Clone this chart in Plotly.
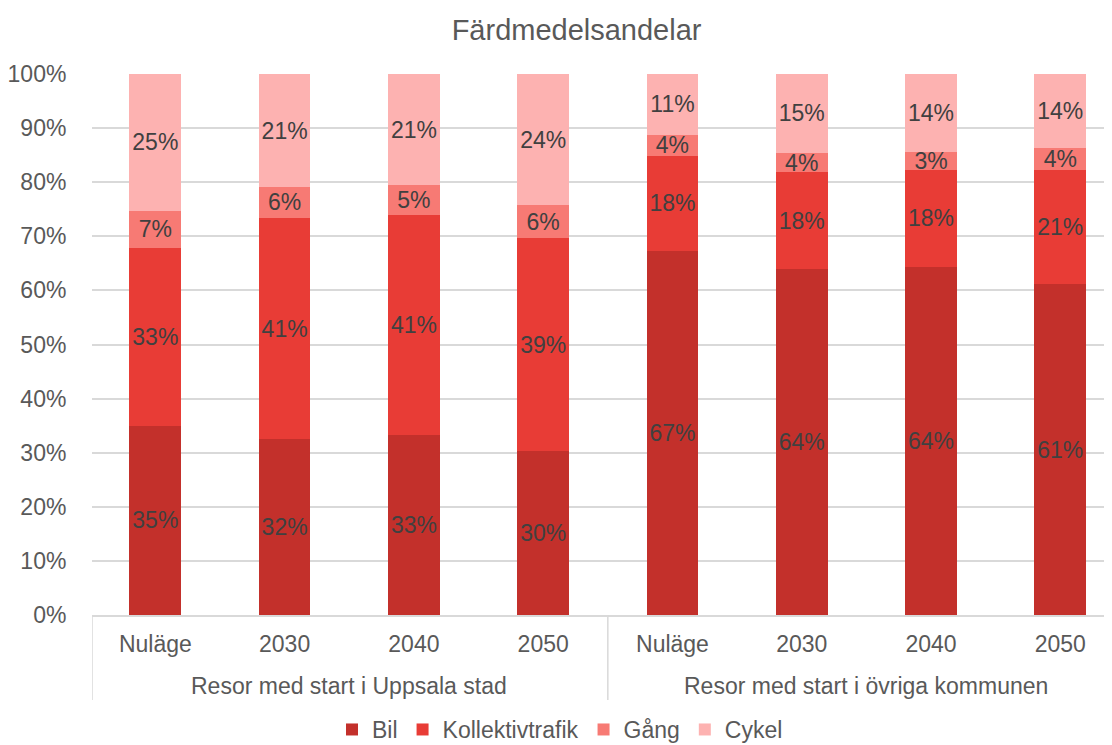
import plotly.graph_objects as go

# data
group_names = ["Resor med start i Uppsala stad", "Resor med start i övriga kommunen"]
periods = ["Nuläge", "2030", "2040", "2050", "Nuläge", "2030", "2040", "2050"]

bil = [35.0, 32.5, 33.3, 30.3, 67.3, 63.9, 64.4, 61.1]
kollektivtrafik = [32.9, 40.9, 40.7, 39.3, 17.6, 17.9, 17.9, 21.1]
gang = [6.8, 5.7, 5.4, 6.1, 3.9, 3.6, 3.3, 4.2]
cykel = [25.3, 20.9, 20.6, 24.3, 11.2, 14.6, 14.4, 13.6]

series = [
    ("Bil", bil, "#C3302B"),
    ("Kollektivtrafik", kollektivtrafik, "#E83C36"),
    ("Gång", gang, "#F77A74"),
    ("Cykel", cykel, "#FDB2B1"),
]

FONT = "Liberation Sans, Arial, sans-serif"
GREY = "#595959"
LINE = "#D9D9D9"

xpos = list(range(len(periods)))

fig = go.Figure()
for name, vals, col in series:
    fig.add_trace(go.Bar(
        x=xpos, y=vals, name=name, width=0.4,
        marker=dict(color=col, line=dict(width=0)),
        text=[f"{round(v)}%" for v in vals],
        textposition="inside", insidetextanchor="middle", textangle=0,
        textfont=dict(family=FONT, size=23, color="#404040"),
        constraintext="none",
        hoverinfo="skip",
    ))

# group labels under the period labels
for i, g in enumerate(group_names):
    fig.add_annotation(x=i * 4 + 1.5, y=-0.132, xref="x", yref="paper",
                       text=g, showarrow=False, yanchor="middle",
                       font=dict(family=FONT, size=23, color=GREY))

# vertical dividers of the category axis
for xd in [-0.49, 3.5, 7.5]:
    fig.add_shape(type="line", xref="x", yref="paper", x0=xd, x1=xd, y0=0, y1=-0.157,
                  line=dict(color=LINE, width=1.5))

# page body adds an 8px margin, so the figure is 8px smaller than the window
fig.update_layout(
    barmode="stack",
    width=1104, height=737,
    margin=dict(l=84, r=0, t=66, b=130, autoexpand=False),
    paper_bgcolor="white", plot_bgcolor="white",
    font=dict(family=FONT, size=23, color=GREY),
    title=dict(text="Färdmedelsandelar", x=0.515, xanchor="center", y=0.97, yanchor="middle",
               font=dict(family=FONT, size=29, color=GREY)),
    uniformtext=dict(mode=False),
    legend=dict(orientation="h", x=0.5, xanchor="center", xref="container",
                y=0.021, yanchor="middle", yref="container",
                font=dict(family=FONT, size=23, color=GREY),
                traceorder="normal", itemwidth=30),
)
fig.update_yaxes(range=[0, 100], dtick=10, ticksuffix="%", automargin=False,
                 showgrid=True, gridcolor=LINE, gridwidth=1.5,
                 zeroline=False, showline=False,
                 ticks="outside", ticklen=20, tickcolor="rgba(0,0,0,0)",
                 tickfont=dict(family=FONT, size=23, color=GREY))
fig.update_xaxes(range=[-0.49, 7.4], showline=True, linecolor=LINE, linewidth=1.5,
                 tickvals=xpos, ticktext=periods, showgrid=False, zeroline=False,
                 automargin=False,
                 ticks="outside", ticklen=8, tickcolor="rgba(0,0,0,0)",
                 tickfont=dict(family=FONT, size=23, color=GREY))

fig.write_html("out.html")
